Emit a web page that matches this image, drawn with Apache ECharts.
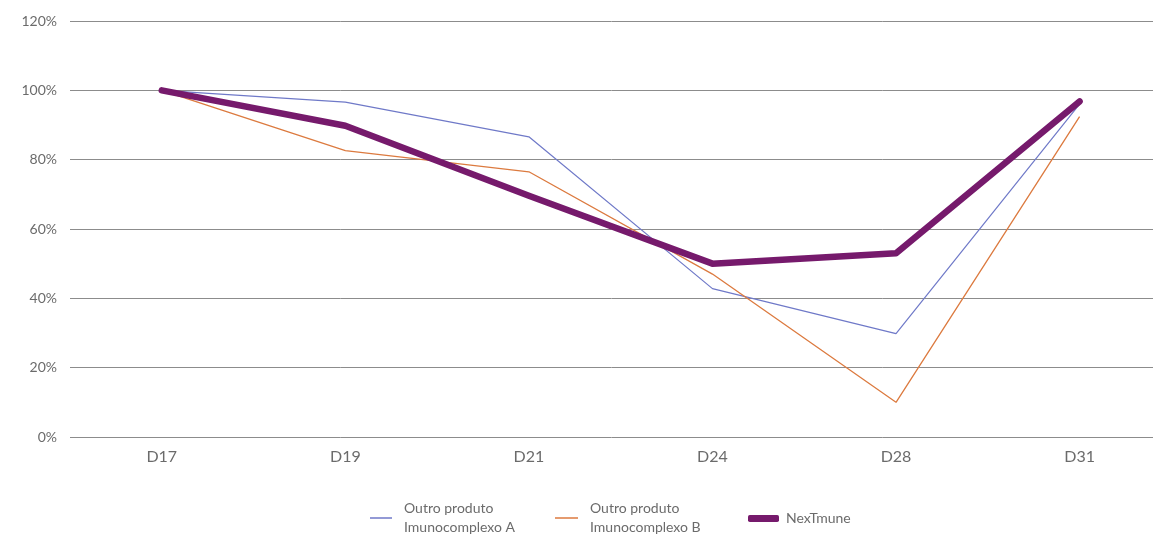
<!DOCTYPE html>
<html><head><meta charset="utf-8">
<script src="https://cdn.jsdelivr.net/npm/echarts@6/dist/echarts.min.js"></script>
<style>html,body{margin:0;padding:0;background:#fff}#c{width:1153px;height:534px}</style>
</head><body><div id="c"></div>
<script>
const categories = ['D17','D19','D21','D24','D28','D31'];
const seriesA = [100, 96.6, 86.6, 42.8, 29.8, 96.0];
const seriesB = [100, 82.6, 76.5, 47.0, 10.0, 92.4];
const seriesN = [100, 89.8, 69.6, 50.0, 53.0, 96.8];
const yTicks = [0, 20, 40, 60, 80, 100, 120];
const names = ['Outro produto\nImunocomplexo A', 'Outro produto\nImunocomplexo B', 'NexTmune'];
const colors = ['#6f79c8', '#dc7a3f', '#761a6c'];

const font = 'Lato, "Open Sans", sans-serif';
const idx = categories.map((c, i) => i);
const pairs = arr => arr.map((v, i) => [i, v]);
const chart = echarts.init(document.getElementById('c'));
const legendBase = {
  orient: 'horizontal', top: 499, padding: 0,
  textStyle: {color: '#6b6b6b', fontSize: 14, fontFamily: font, lineHeight: 19, padding: [0,0,0,7]}
};
chart.setOption({
  animation: false,
  backgroundColor: '#fff',
  grid: {left: 70, top: 21, right: 0, height: 416, containLabel: false, outerBoundsMode: 'none'},
  xAxis: {
    type: 'value', min: -0.5, max: 5.4,
    axisLine: {show: false}, axisTick: {show: false}, splitLine: {show: false},
    axisLabel: {customValues: idx, color: '#6b6b6b', fontSize: 16, fontFamily: font, margin: 12,
      formatter: v => categories[Math.round(v)] || ''}
  },
  yAxis: {
    type: 'value', min: yTicks[0], max: yTicks[yTicks.length-1], interval: 20,
    axisLine: {show: false}, axisTick: {show: false},
    axisLabel: {color: '#6b6b6b', fontSize: 14, fontFamily: font, margin: 13, formatter: v => v + '%'},
    splitLine: {lineStyle: {color: '#8c8c8c', width: 1}}
  },
  legend: [
    Object.assign({}, legendBase, {left: 370, data: [{name: names[0], icon: 'rect'}], itemWidth: 22, itemHeight: 1.5}),
    Object.assign({}, legendBase, {left: 555, data: [{name: names[1], icon: 'rect'}], itemWidth: 23, itemHeight: 1.5}),
    Object.assign({}, legendBase, {left: 748, data: [{name: names[2], icon: 'roundRect'}], itemWidth: 31, itemHeight: 7, top: 509,
      textStyle: Object.assign({}, legendBase.textStyle, {padding: [0,0,0,2]})})
  ],
  series: [
    {name: names[0], type: 'line', data: pairs(seriesA), symbol: 'none', color: colors[0],
     lineStyle: {width: 1.2, color: colors[0]}, z: 2},
    {name: names[1], type: 'line', data: pairs(seriesB), symbol: 'none', color: colors[1],
     lineStyle: {width: 1.3, color: colors[1]}, z: 3},
    {name: names[2], type: 'line', data: pairs(seriesN), symbol: 'none', color: colors[2],
     lineStyle: {width: 6.5, color: colors[2], cap: 'round', join: 'round'}, z: 4}
  ]
});
</script></body></html>
